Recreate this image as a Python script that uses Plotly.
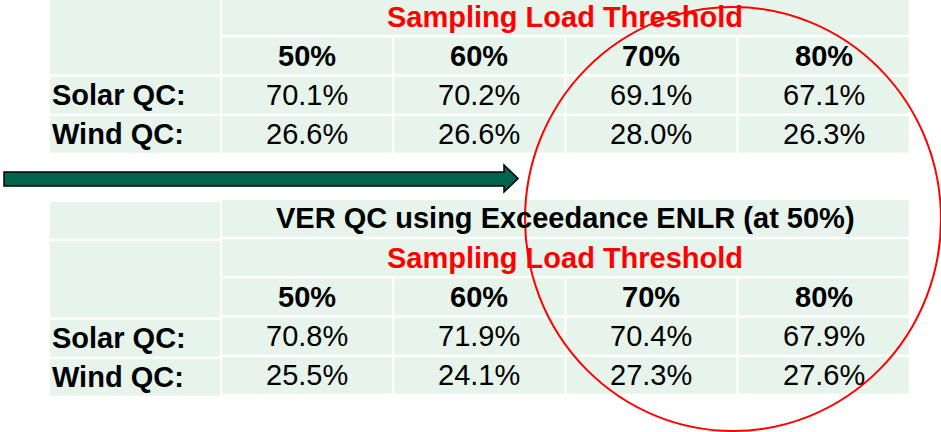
import plotly.graph_objects as go

# ---- data ----
thresholds = ["50%", "60%", "70%", "80%"]
row_labels = ["Solar QC:", "Wind QC:"]
group_title = "Sampling Load Threshold"
bottom_title = "VER QC using Exceedance ENLR (at 50%)"
top_solar = [70.1, 70.2, 69.1, 67.1]
top_wind = [26.6, 26.6, 28.0, 26.3]
bottom_solar = [70.8, 71.9, 70.4, 67.9]
bottom_wind = [25.5, 24.1, 27.3, 27.6]

# ---- layout constants ----
W, H = 941, 432
CELL = "#E6F4EC"
RED = "#FF0000"
FONT = "Liberation Sans, Arial, sans-serif"
FS = 29
LAB_X0, LAB_X1 = 50, 220
COL_X0, COL_W, COL_GAP = 222, 170, 2.2
ROW_H, ROW_PITCH = 36.8, 39.25

shapes = []
annotations = []


def rect(x0, y0, x1, y1):
    shapes.append(dict(type="rect", xref="x", yref="y", x0=x0, x1=x1, y0=y0, y1=y1,
                       fillcolor=CELL, line=dict(width=0), layer="below"))


def text(x, y, s, bold=False, color="black", anchor="center"):
    annotations.append(dict(x=x, y=y, xref="x", yref="y", text=("<b>%s</b>" % s) if bold else s,
                            showarrow=False, xanchor=anchor, yanchor="middle",
                            font=dict(family=FONT, size=FS, color=color)))


ncol = len(thresholds)
col_left = [COL_X0 + i * (COL_W + COL_GAP) for i in range(ncol)]
data_x1 = col_left[-1] + COL_W
data_cx = (COL_X0 + data_x1) / 2


def table(y_top, solar, wind, title=None, label_dy=0.0):
    rows = []
    if title is not None:
        rows.append("title")
    rows += ["group", "head", "solar", "wind"]
    ys = {name: y_top + i * ROW_PITCH for i, name in enumerate(rows)}
    # label column
    if title is not None:
        rect(LAB_X0, ys["title"] + label_dy, LAB_X1, ys["title"] + ROW_H + label_dy)
    rect(LAB_X0, ys["group"] + label_dy, LAB_X1, ys["head"] + ROW_H + label_dy)
    for name, lab in zip(["solar", "wind"], row_labels):
        rect(LAB_X0, ys[name] + label_dy, LAB_X1, ys[name] + ROW_H + label_dy)
        text(LAB_X0, ys[name] + ROW_H / 2 + label_dy, lab, bold=True, anchor="left")
    # spanning rows
    if title is not None:
        rect(COL_X0, ys["title"], data_x1, ys["title"] + ROW_H)
        text(data_cx, ys["title"] + ROW_H / 2, title, bold=True)
    rect(COL_X0, ys["group"], data_x1, ys["group"] + ROW_H)
    text(data_cx, ys["group"] + ROW_H / 2, group_title, bold=True, color=RED)
    # per-column rows
    for i, th in enumerate(thresholds):
        x0 = col_left[i]
        cx = x0 + COL_W / 2
        rect(x0, ys["head"], x0 + COL_W, ys["head"] + ROW_H)
        text(cx, ys["head"] + ROW_H / 2, th, bold=True)
        for name, vals in (("solar", solar), ("wind", wind)):
            rect(x0, ys[name], x0 + COL_W, ys[name] + ROW_H)
            text(cx, ys[name] + ROW_H / 2, "%.1f%%" % vals[i])


table(-1.75, top_solar, top_wind)
table(200, bottom_solar, bottom_wind, title=bottom_title, label_dy=2)

# arrow
ax0, ax1, atip = 4, 504, 518
sy0, sy1, hy0, hy1 = 172, 186, 165, 192
amid = (hy0 + hy1) / 2
shapes.append(dict(type="path", xref="x", yref="y",
                   path=f"M {ax0},{sy0} L {ax1},{sy0} L {ax1},{hy0} L {atip},{amid} L {ax1},{hy1} L {ax1},{sy1} L {ax0},{sy1} Z",
                   fillcolor="#00634E", line=dict(color="black", width=1.5), layer="above"))

# red ellipse
shapes.append(dict(type="circle", xref="x", yref="y", x0=525, x1=941, y0=7, y1=431,
                   line=dict(color=RED, width=2), fillcolor="rgba(0,0,0,0)", layer="above"))

fig = go.Figure()
fig.update_layout(
    width=W, height=H,
    margin=dict(l=0, r=0, t=0, b=0),
    paper_bgcolor="white", plot_bgcolor="white",
    xaxis=dict(range=[0, W], visible=False, fixedrange=True),
    yaxis=dict(range=[H, 0], visible=False, fixedrange=True),
    shapes=shapes, annotations=annotations, showlegend=False,
)
fig.write_html("out.html", config={"displayModeBar": False},
               post_script="document.body.style.margin='0';document.body.style.overflow='hidden';")
